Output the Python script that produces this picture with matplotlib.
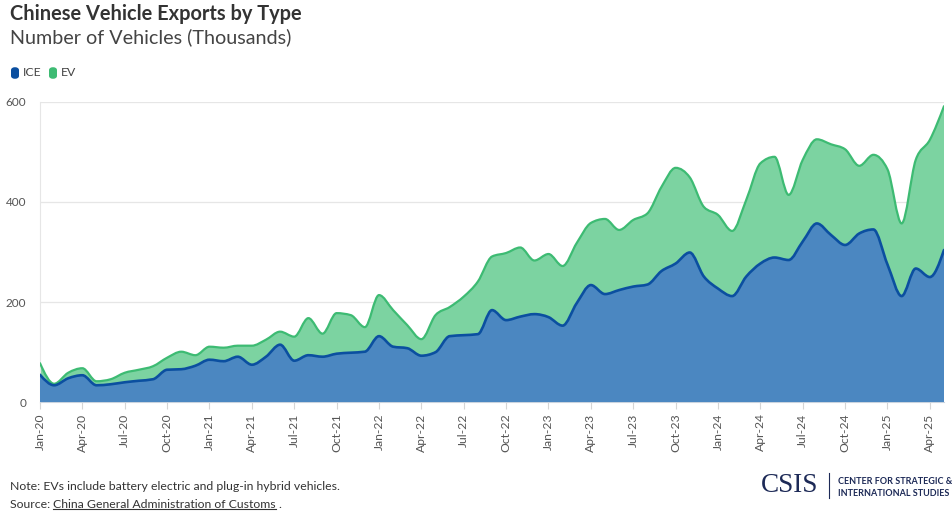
import matplotlib
matplotlib.use("Agg")
import matplotlib.pyplot as plt
import numpy as np
import pandas as pd
from matplotlib.path import Path
from matplotlib.patches import PathPatch, FancyBboxPatch
from matplotlib.lines import Line2D

plt.rcParams["font.family"] = ["Lato", "DejaVu Sans"]

# ---- data (thousands of vehicles), Jan-2020 .. May-2025 -------------------
months = pd.date_range("2020-01-01", periods=65, freq="MS")
ice = [55, 34, 48, 54, 34, 36, 40, 43, 46, 65, 66, 73,
       85, 82, 91, 75, 91, 115, 83, 94, 91, 97, 99, 101,
       132, 111, 108, 93, 100, 132, 134, 136, 184, 164, 171, 176,
       170, 153, 198, 234, 216, 224, 231, 235, 262, 277, 299, 251,
       227, 212, 251, 277, 289, 284, 321, 357, 334, 314, 337, 345,
       275, 212, 267, 250, 304]
ev = [23, 3, 11, 14, 8, 10, 19, 22, 26, 24, 35, 21,
      26, 27, 22, 38, 34, 26, 48, 74, 46, 81, 75, 49,
      82, 73, 46, 33, 74, 58, 77, 105, 107, 134, 138, 107,
      126, 119, 120, 124, 150, 120, 133, 142, 168, 191, 150, 139,
      147, 130, 153, 200, 201, 130, 163, 168, 181, 191, 135, 149,
      190, 145, 217, 274, 287]
tick_labels = [d.strftime("%b-%y") for d in months[::3]]
y_ticks = [0, 200, 400, 600]

ICE_FILL, ICE_LINE = "#4b87c1", "#0b4fa0"
EV_FILL, EV_LINE = "#7cd3a1", "#3dbb73"


def monotone_segments(x, y):
    """cubic bezier segments of a monotone-x curve (same as d3 curveMonotoneX)"""
    x = np.asarray(x, float); y = np.asarray(y, float)
    n = len(x)
    h = np.diff(x); s = np.diff(y) / h
    t = np.zeros(n)
    for i in range(1, n - 1):
        p = (s[i - 1] * h[i] + s[i] * h[i - 1]) / (h[i - 1] + h[i])
        sg = (1 if s[i - 1] >= 0 else -1) + (1 if s[i] >= 0 else -1)
        t[i] = sg * min(abs(s[i - 1]), abs(s[i]), 0.5 * abs(p))
    t[0] = (3 * s[0] - t[1]) / 2
    t[-1] = (3 * s[-1] - t[-2]) / 2
    segs = []
    for i in range(n - 1):
        dx = h[i] / 3
        segs.append(((x[i], y[i]), (x[i] + dx, y[i] + dx * t[i]),
                     (x[i + 1] - dx, y[i + 1] - dx * t[i + 1]), (x[i + 1], y[i + 1])))
    return segs


def add_curve(verts, codes, segs):
    for _, c1, c2, p1 in segs:
        verts += [c1, c2, p1]; codes += [Path.CURVE4] * 3


def reverse(segs):
    return [(p1, c2, c1, p0) for p0, c1, c2, p1 in segs[::-1]]


x = np.arange(len(months))
total = np.array(ice) + np.array(ev)
ice_s = monotone_segments(x, ice)
tot_s = monotone_segments(x, total)

fig = plt.figure(figsize=(9.53, 5.15), dpi=100)
ax = fig.add_axes([40 / 953, 1 - 402.3 / 515, 904 / 953, 300.6 / 515])

# EV band (between ICE and total)
v = [(x[0], ice[0]), (x[0], total[0])]; c = [Path.MOVETO, Path.LINETO]
add_curve(v, c, tot_s)
v.append((x[-1], ice[-1])); c.append(Path.LINETO)
add_curve(v, c, reverse(ice_s))
v.append((0, 0)); c.append(Path.CLOSEPOLY)
ax.add_patch(PathPatch(Path(v, c), facecolor=EV_FILL, edgecolor="none", zorder=2))

# ICE area
v = [(x[0], 0), (x[0], ice[0])]; c = [Path.MOVETO, Path.LINETO]
add_curve(v, c, ice_s)
v.append((x[-1], 0)); c.append(Path.LINETO)
v.append((0, 0)); c.append(Path.CLOSEPOLY)
ax.add_patch(PathPatch(Path(v, c), facecolor=ICE_FILL, edgecolor="none", zorder=3))

# outlines
for segs, col, lw in ((tot_s, EV_LINE, 1.6), (ice_s, ICE_LINE, 1.9)):
    v = [segs[0][0]]; c = [Path.MOVETO]
    add_curve(v, c, segs)
    ax.add_patch(PathPatch(Path(v, c), facecolor="none", edgecolor=col, lw=lw,
                           capstyle="round", joinstyle="round", zorder=4))

ax.set_xlim(0, x[-1])
ax.set_ylim(0, 600)
ax.set_yticks(y_ticks)
ax.set_yticklabels([str(t) for t in y_ticks], fontsize=8.5, color="#555555")
ax.set_xticks(x[::3])
ax.set_xticklabels(tick_labels, rotation=90, fontsize=8.7, color="#555555")
ax.grid(axis="y", color="#e6e6e6", lw=0.9, zorder=0)
ax.set_axisbelow(True)
for side in ("top", "right"):
    ax.spines[side].set_visible(False)
ax.spines["left"].set_color("#e6e6e6")
ax.spines["bottom"].set_color("#c9d3de")
ax.tick_params(axis="y", length=0, pad=10)
ax.tick_params(axis="x", length=5, color="#d5d5d5", pad=3)

# ---- header ----
fig.text(10 / 953, 1 - 3.5 / 515, "Chinese Vehicle Exports by Type", fontsize=14.4,
         fontweight="bold", color="#333333", va="top", ha="left")
fig.text(10 / 953, 1 - 28 / 515, "Number of Vehicles (Thousands)", fontsize=14.2,
         color="#444444", va="top", ha="left")
for x0, col, lab in ((10, ICE_LINE, "ICE"), (48, EV_LINE, "EV")):
    fig.patches.append(FancyBboxPatch(((x0 + 1) / 953, 1 - 79 / 515), 8 / 953, 12 / 515,
                                      boxstyle="round,pad=0,rounding_size=0.006",
                                      transform=fig.transFigure, facecolor=col,
                                      edgecolor="none"))
    fig.text((x0 + 12.5) / 953, 1 - 73 / 515, lab, fontsize=8.8, color="#444444",
             va="center", ha="left")

# ---- footer ----
fig.text(10 / 953, 1 - 487 / 515, "Note: EVs include battery electric and plug-in hybrid vehicles.",
         fontsize=8.8, color="#333333", va="center", ha="left")
src = fig.text(10 / 953, 1 - 504 / 515, "Source: ", fontsize=8.8, color="#333333",
               va="center", ha="left")
fig.canvas.draw()
r = fig.canvas.get_renderer()
bb = src.get_window_extent(r)
link = fig.text(bb.x1 / 953, 1 - 504 / 515, "China General Administration of Customs",
                fontsize=8.8, color="#333333", va="center", ha="left")
lb = link.get_window_extent(r)
fig.lines.append(Line2D([lb.x0 / 953, lb.x1 / 953], [(lb.y0 + 0.5) / 515] * 2,
                        transform=fig.transFigure, color="#333333", lw=0.8))
fig.text((lb.x1 + 2) / 953, 1 - 504 / 515, ".", fontsize=8.8, color="#333333",
         va="center", ha="left")

# CSIS mark
NAVY = "#1d2a57"
fig.text(790 / 953, 1 - 485 / 515, "CSIS", fontsize=19.5, family="Liberation Serif",
         color=NAVY, va="center", ha="center")
fig.lines.append(Line2D([829 / 953] * 2, [1 - 473 / 515, 1 - 498 / 515],
                        transform=fig.transFigure, color=NAVY, lw=0.8))
fig.text(838 / 953, 1 - 481 / 515, "CENTER FOR STRATEGIC &", fontsize=6.5,
         fontweight="bold", color=NAVY, va="center", ha="left")
fig.text(838 / 953, 1 - 493 / 515, "INTERNATIONAL STUDIES", fontsize=6.5,
         fontweight="bold", color=NAVY, va="center", ha="left")

fig.savefig("out.png", dpi=100)
